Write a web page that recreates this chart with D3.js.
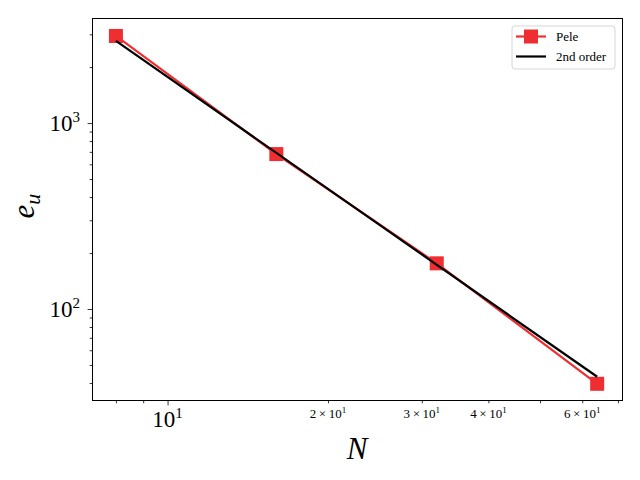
<!DOCTYPE html>
<html><head><meta charset="utf-8">
<script src="https://cdn.jsdelivr.net/npm/d3@7"></script>
<style>body{margin:0;background:#fff}svg{display:block}text{font-family:"Liberation Serif","DejaVu Serif",serif}</style>
</head><body><svg id="c" width="640" height="480"></svg>
<script>
const nValues = [8, 16, 32, 64];
const peleErr = [2940, 681, 176, 39.6];
const orderN = [8, 64];
const orderErr = [2765, 43.2];
const seriesNames = ["Pele", "2nd order"];
const xMajorTicks = [10];
const xMinorLabeled = [20, 30, 40, 60];
const yMajorTicks = [100, 1000];

const svg = d3.select("#c");
const L = 92.5, R = 622.5, T = 18.5, B = 400.5;
const x = d3.scaleLog().domain([7.23, 71.4]).range([L, R]);
const y = d3.scaleLog().domain([32.2, 3650]).range([B, T]);
const red = "#ee2e31";

// minor ticks
const xMinor = [];
for (let d of [1, 10]) for (let k = 2; k <= 9; k++) xMinor.push(k * d);
const yMinor = [];
for (let d of [10, 100, 1000]) for (let k = 2; k <= 9; k++) yMinor.push(k * d);

const xAxis = d3.axisBottom(x).tickValues(xMinor.filter(v => v >= 7.23 && v <= 71.4)).tickSize(2.8).tickFormat("");
const xAxisMaj = d3.axisBottom(x).tickValues(xMajorTicks).tickSize(4.9).tickFormat("");
const yAxis = d3.axisLeft(y).tickValues(yMinor.filter(v => v >= 32.2 && v <= 3650)).tickSize(2.8).tickFormat("");
const yAxisMaj = d3.axisLeft(y).tickValues(yMajorTicks).tickSize(4.9).tickFormat("");
[xAxis, xAxisMaj].forEach(a => svg.append("g").attr("transform", `translate(0,${B})`).call(a).call(g => g.select(".domain").remove()).selectAll("line").attr("stroke", "#000").attr("stroke-width", 0.8));
[yAxis, yAxisMaj].forEach(a => svg.append("g").attr("transform", `translate(${L},0)`).call(a).call(g => g.select(".domain").remove()).selectAll("line").attr("stroke", "#000").attr("stroke-width", 0.8));

// tick labels
xMajorTicks.forEach(v => {
  const t = svg.append("text").attr("x", x(v)).attr("y", 427).attr("text-anchor", "middle").attr("font-size", 23);
  t.append("tspan").text("10");
  t.append("tspan").attr("font-size", 15).attr("dy", -9).text(Math.round(Math.log10(v)));
});
xMinorLabeled.forEach(v => {
  const m = v / 10;
  const t = svg.append("text").attr("x", x(v)).attr("y", 418).attr("text-anchor", "middle").attr("font-size", 13);
  t.append("tspan").text(m + "\u2009\u00d7\u200910");
  t.append("tspan").attr("font-size", 9).attr("dy", -5).text("1");
});
yMajorTicks.forEach(v => {
  const t = svg.append("text").attr("x", 80).attr("y", y(v) + 8).attr("text-anchor", "end").attr("font-size", 23);
  t.append("tspan").text("10");
  t.append("tspan").attr("font-size", 15).attr("dy", -9).text(Math.round(Math.log10(v)));
});

// axis labels
svg.append("text").attr("x", 357).attr("y", 459).attr("text-anchor", "middle").attr("font-size", 31).attr("font-style", "italic").text("N");
const yl = svg.append("text").attr("transform", "translate(34,206) rotate(-90)").attr("text-anchor", "middle").attr("font-size", 31).attr("font-style", "italic");
yl.append("tspan").text("e");
yl.append("tspan").attr("font-size", 22).attr("dy", 6).text("u");

// data
const line = d3.line().x(d => x(d[0])).y(d => y(d[1]));
const peleData = nValues.map((n, i) => [n, peleErr[i]]);
svg.append("path").datum(peleData).attr("d", line).attr("fill", "none").attr("stroke", red).attr("stroke-width", 2.2);
svg.selectAll(".mk").data(peleData).enter().append("rect")
  .attr("x", d => x(d[0]) - 7).attr("y", d => y(d[1]) - 7).attr("width", 14).attr("height", 14).attr("fill", red);
const ordData = orderN.map((n, i) => [n, orderErr[i]]);
svg.append("path").datum(ordData).attr("d", line).attr("fill", "none").attr("stroke", "#000").attr("stroke-width", 2.2);

// frame
svg.append("rect").attr("x", L).attr("y", T).attr("width", R - L).attr("height", B - T).attr("fill", "none").attr("stroke", "#000").attr("stroke-width", 1);

// legend
const lg = svg.append("g");
lg.append("rect").attr("x", 512).attr("y", 26).attr("width", 103).attr("height", 43).attr("rx", 3).attr("fill", "#fff").attr("fill-opacity", 0.8).attr("stroke", "#d6d6d6").attr("stroke-width", 1);
lg.append("line").attr("x1", 516).attr("x2", 546).attr("y1", 36.5).attr("y2", 36.5).attr("stroke", red).attr("stroke-width", 2.2);
lg.append("rect").attr("x", 524).attr("y", 29.5).attr("width", 14).attr("height", 14).attr("fill", red);
lg.append("line").attr("x1", 516).attr("x2", 546).attr("y1", 56.5).attr("y2", 56.5).attr("stroke", "#000").attr("stroke-width", 2.2);
lg.append("text").attr("x", 556).attr("y", 41).attr("font-size", 13).text(seriesNames[0]);
lg.append("text").attr("x", 556).attr("y", 61).attr("font-size", 13).text(seriesNames[1]);
</script></body></html>
